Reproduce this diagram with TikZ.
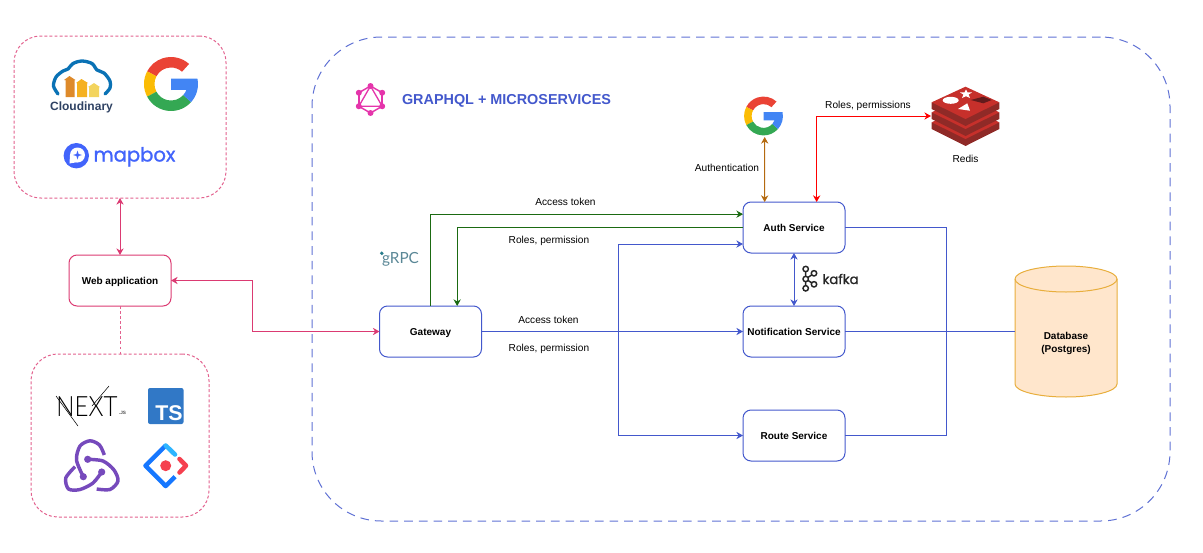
\documentclass[tikz,border=0pt]{standalone}
\usepackage{fontspec}
\setmainfont{Liberation Sans}
\newfontfamily\logofont[FakeBold=1.2]{Poppins}
\newfontfamily\grpcfont{Lato}
\newfontfamily\nextfont{Lato Light}
\usetikzlibrary{shapes.geometric,arrows.meta}
\definecolor{svcblue}{HTML}{4358CC}
\definecolor{webpink}{HTML}{DB3A72}
\definecolor{tokengreen}{HTML}{1B6A12}
\definecolor{oauthbrown}{HTML}{B46A10}
\definecolor{dbfill}{HTML}{FFE6CC}
\definecolor{dbline}{HTML}{E8AE3C}
\definecolor{gred}{HTML}{EA4335}
\definecolor{gyellow}{HTML}{FBBC05}
\definecolor{ggreen}{HTML}{34A853}
\definecolor{gblue}{HTML}{4285F4}
\definecolor{reduxpurple}{HTML}{764ABC}
\definecolor{qlpink}{HTML}{E535AB}
\definecolor{redistop}{HTML}{C6302B}
\definecolor{redisside}{HTML}{8F2A27}
\definecolor{mapblue}{HTML}{4264FB}
\definecolor{cloudnavy}{HTML}{2F4263}
\tikzset{pxsize/.style 2 args={minimum width=#1*.75pt,minimum height=#2*.75pt,inner sep=0pt,outer sep=0pt},
         service/.style={draw=svcblue,rounded corners=6pt,align=center,text height=7.2pt,text depth=.8pt,font=\fontsize{7.5}{9}\selectfont\bfseries},
         webbox/.style={draw=webpink,rounded corners=6pt,text height=7.2pt,text depth=.8pt,font=\fontsize{7.5}{9}\selectfont\bfseries},
         groupbox/.style={draw=webpink!80,dash pattern=on 2.2pt off 1.6pt,rounded corners=20pt},
         txtlabel/.style={font=\fontsize{7.6}{9}\selectfont,inner sep=0pt,align=center},
         link/.style={draw=#1,{Stealth[length=5pt,width=5.5pt]}-{Stealth[length=5pt,width=5.5pt]}},
         flow/.style={draw=#1,-{Stealth[length=5pt,width=5.5pt]}},
         googleg/.pic={
           \begin{scope}[x=.75pt,y=.75pt]
           \fill[gred] (48:27) arc (48:152:27) -- (152:16.5) arc (152:48:16.5) -- cycle;
           \fill[gyellow] (152:27) arc (152:208:27) -- (208:16.5) arc (208:152:16.5) -- cycle;
           \fill[ggreen] (208:27) arc (208:318:27) -- (318:16.5) arc (318:208:16.5) -- cycle;
           \fill[gblue] (0,5.5) -- (26.4,5.5) arc (12:-42:27) -- (-42:16.5) arc (-42:-21:16.5) -- (0,-6) -- cycle;
           \end{scope}}}
\begin{document}
\begin{tikzpicture}[x=.75pt,y=-.75pt,line width=.75pt]
\useasboundingbox (0,0) rectangle (1203,553);

\node [groupbox,pxsize={212}{162}] (extbox) at (120,117) {};
\node [groupbox,pxsize={178}{163}] (stackbox) at (120,435.5) {};
\node [draw=svcblue!85,dash pattern=on 6.5pt off 4.5pt,rounded corners=52pt,pxsize={858}{484}] (msbox) at (741,279) {};

\node [webbox,pxsize={102}{51}] (web) at (120,280.5) {Web application};
\node [service,pxsize={102}{51}] (gateway) at (430.5,331.5) {Gateway};
\node [service,pxsize={102}{51}] (auth) at (794,227.5) {Auth Service};
\node [service,pxsize={102}{51}] (notif) at (794,331.5) {Notification Service};
\node [service,pxsize={102}{51}] (route) at (794,435.5) {Route Service};
\node [pxsize={102}{131}] (database) at (1066,331.5) {};
\filldraw [draw=dbline,fill=dbfill] (1015,279) -- (1015,384) arc [start angle=180,end angle=0,x radius=51,y radius=13] -- (1117,279) arc [start angle=0,end angle=-180,x radius=51,y radius=13];
\draw [dbline] (1015,279) arc [start angle=180,end angle=0,x radius=51,y radius=13];
\node [txtlabel,font=\fontsize{7.5}{10}\selectfont\bfseries] (dbtext) at (1066,343.5) {Database\\(Postgres)};

\coordinate (webbend) at (252,331.5);
\coordinate (busleft) at (618,331.5);
\coordinate (busright) at (946,331.5);
\coordinate (googleport) at (764.7,137);
\coordinate (redisport) at (931,116);

\draw [link=webpink] (extbox.south) -- (web.north);
\draw [draw=webpink!80,dash pattern=on 2.2pt off 1.6pt] (web.south) -- (stackbox.north);
\draw [link=webpink] (web.east) -| (webbend) -- (gateway.west);
\draw [flow=tokengreen] (gateway.north) |- ([yshift=10pt]auth.west);
\draw [flow=tokengreen] (auth.west) -| ([xshift=20pt]gateway.north);
\draw [flow=svcblue] (gateway.east) -- (busleft) |- ([yshift=-12.4pt]auth.west);
\draw [flow=svcblue] (gateway.east) -- (notif.west);
\draw [flow=svcblue] (gateway.east) -- (busleft) |- (route.west);
\draw [draw=svcblue] (auth.east) -| (busright) -- (database.west);
\draw [draw=svcblue] (notif.east) -- (database.west);
\draw [draw=svcblue] (route.east) -| (busright) -- (database.west);
\draw [link=svcblue] (auth.south) -- (notif.north);
\draw [link=oauthbrown] (googleport) -- ([xshift=-22pt]auth.north);
\draw [link=red] ([xshift=17pt]auth.north) |- (redisport);

\node [txtlabel] (tokenup) at (565.5,202) {Access token};
\node [txtlabel] (rolesup) at (549,240.5) {Roles, permission};
\node [txtlabel] (tokendown) at (548.5,319.5) {Access token};
\node [txtlabel] (rolesdown) at (549,348.5) {Roles, permission};
\node [txtlabel] (oauthtext) at (727,168) {Authentication};
\node [txtlabel] (redistext) at (868,105.5) {Roles, permissions};
\node [txtlabel] (redisname) at (965.5,159) {Redis};
\node [inner sep=0pt,text=svcblue,font=\fontsize{10.8}{12}\selectfont\bfseries] (title) at (506.5,101) {GRAPHQL + MICROSERVICES};

\foreach \a in {30,90,...,330} {
  \draw [qlpink,line width=1.1pt] (370.5,99.5) +(\a:13.5) -- +(\a+60:13.5);
  \fill [qlpink] (370.5,99.5) +(\a:13.5) circle [radius=3];
}
\draw [qlpink,line width=1pt] (370.5,86) -- (358.8,106.3) -- (382.2,106.3) -- cycle;

\pic at (171,84) {googleg};
\pic [scale=.72] at (763.5,116) {googleg};

\draw [color={rgb,255:red,10;green,114;blue,181},line width=2.5pt,line cap=round] plot [smooth] coordinates {(58,94) (53.5,86) (56,77) (63,71) (68,69) (73,63.5) (82,61) (92,63.5) (97,70) (104,73) (110,81) (110,88) (105,94)};
\fill [color={rgb,255:red,222;green,138;blue,42}] (64,80) -- (69.5,76) -- (75.5,80) -- (74.5,80) -- (74.5,97) -- (65.5,97) -- (65.5,80) -- cycle;
\fill [color={rgb,255:red,245;green,177;blue,32}] (76,83) -- (81.5,79) -- (88,83) -- (87,83) -- (87,97) -- (77,97) -- (77,83) -- cycle;
\fill [color={rgb,255:red,243;green,212;blue,94}] (88,87) -- (94,83) -- (100,87) -- (99,87) -- (99,97) -- (89,97) -- (89,87) -- cycle;
\node [inner sep=0pt,text=cloudnavy,font=\fontsize{9}{10}\selectfont\bfseries] (cloudinary) at (81.5,107) {Cloudinary};

\fill [mapblue] (76.3,155.7) circle [radius=12.7];
\fill [white] (77.5,155) circle [radius=7.5];
\fill [white] (70,155) -- (69.5,163.5) -- (78,162) -- cycle;
\fill [mapblue] (77.5,150.5) -- (78.6,154) -- (82,155) -- (78.6,156) -- (77.5,159.5) -- (76.4,156) -- (73,155) -- (76.4,154) -- cycle;
\node [inner sep=0pt,anchor=base west,text=mapblue,font=\logofont\fontsize{14.7}{16}\selectfont] (mapbox) at (93,161.5) {mapbox};

\node [inner sep=0pt,anchor=base,font=\nextfont\fontsize{21}{21}\selectfont] (nextjs) at (87,416) {\scalebox{.86}[1]{NEXT}};
\draw [line width=.4pt] (56,396) -- (78,426);
\draw [line width=.4pt] (92,406) -- (109,386);
\node [inner sep=0pt,font=\fontsize{3.5}{4}\selectfont\bfseries,text=black!70] (jstext) at (122.5,412.5) {.JS};

\fill [color={rgb,255:red,49;green,120;blue,198},rounded corners=1.5pt] (148,388) rectangle (183.5,424);
\node [inner sep=0pt,text=white,font=\fontsize{16}{16}\selectfont\bfseries] (tstext) at (169,413.5) {TS};

\draw [reduxpurple,line width=2.6pt] plot [smooth] coordinates {(83.3,476.7) (76.5,460) (80,446) (90,440.8) (99.5,445) (104.3,455)};
\draw [reduxpurple,line width=2.6pt] plot [smooth] coordinates {(87.7,459.3) (103,461) (114,470) (118,481) (110,489.5) (96.7,489)};
\draw [reduxpurple,line width=2.6pt] plot [smooth] coordinates {(101.7,472) (93,483) (80,489.5) (68.5,489) (65.8,478) (75,466.7)};
\fill [reduxpurple] (87.7,459.3) circle [radius=3.6] (83.3,476.7) circle [radius=3.6] (101.7,472) circle [radius=3.6];

\draw [color={rgb,255:red,22;green,119;blue,255},line width=3.4pt,line join=round] (165.7,445.5) -- (145.5,465.7) -- (165.7,486) -- (175,476.7);
\draw [color={rgb,255:red,47;green,181;blue,255},line width=3.4pt,line cap=round] (175,454.5) -- (165.7,445.5);
\fill [color={rgb,255:red,245;green,64;blue,79}] (165.7,465.7) circle [radius=5.5];
\draw [color={rgb,255:red,245;green,64;blue,79},line width=3.4pt,line cap=round,line join=round] (179.5,459) -- (186,465.7) -- (179.5,472.5);

\fill [color={rgb,255:red,40;green,125;blue,140}] (381.8,253.3) circle [radius=1.9];
\node [inner sep=0pt,text={rgb,255:red,90;green,135;blue,150},font=\grpcfont\fontsize{11.5}{12}\selectfont] (grpc) at (400.5,259) {gRPC};

\node [inner sep=0pt,anchor=base west,font=\logofont\fontsize{10}{11}\selectfont,text=black!85] (kafka) at (822,284) {kafka};
\draw [black!85,line width=1.1pt] (805.7,269) -- (805.7,288.3) (805.7,279) -- (814,273.3) (805.7,279) -- (814,284.3);
\foreach \kx/\ky in {805.7/269,805.7/279,805.7/288.3,814/273.3,814/284.3}
  \filldraw [draw=black!85,fill=white,line width=1.1pt] (\kx,\ky) circle [radius=2.7];

\foreach \d in {20,10,0} {
  \fill [redisside] (931.7,102.3+\d) -- (931.7,109+\d) -- (965.5,126+\d) -- (999.3,109+\d) -- (999.3,102.3+\d) -- cycle;
  \fill [redistop] (931.7,102.3+\d) -- (965.5,86.7+\d) -- (999.3,102.3+\d) -- (965.5,119+\d) -- cycle;
}
\fill [white] (950.7,100.3) ellipse [x radius=8,y radius=3.5];
\fill [white] (966,89.5) -- (967.5,92.3) -- (972,92.5) -- (968.6,94.5) -- (970,98) -- (966,96.2) -- (962,98) -- (963.4,94.5) -- (960,92.5) -- (964.5,92.3) -- cycle;
\fill [white] (958,109) -- (970,110.7) -- (967.3,103.3) -- cycle;
\fill [color={rgb,255:red,98;green,27;blue,28}] (970.7,100) -- (983.3,96.7) -- (991.7,100) -- (983.3,103.3) -- cycle;
\end{tikzpicture}
\end{document}
